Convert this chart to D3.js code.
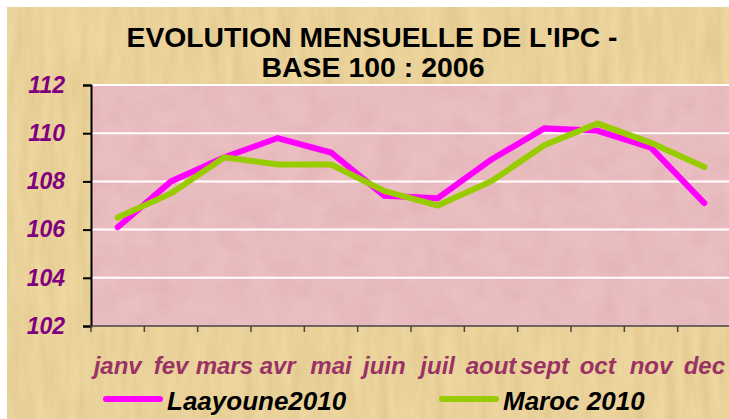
<!DOCTYPE html>
<html>
<head>
<meta charset="utf-8">
<script src="https://cdn.jsdelivr.net/npm/d3@7"></script>
<style>
  body { margin: 0; background: #fff; }
  svg { display: block; }
</style>
</head>
<body>
<svg width="729" height="419"></svg>
<script>
// monthly CPI values, base 100 : 2006
const months = ["janv","fev","mars","avr","mai","juin","juil","aout","sept","oct","nov","dec"];
const laayoune = [106.1, 108.0, 109.0, 109.8, 109.2, 107.4, 107.3, 108.9, 110.2, 110.1, 109.4, 107.1];
const maroc = [106.5, 107.5, 109.0, 108.7, 108.7, 107.6, 107.0, 108.0, 109.5, 110.4, 109.6, 108.6];
const yTicks = [102, 104, 106, 108, 110, 112];
const seriesNames = ["Laayoune2010", "Maroc 2010"];
const seriesColors = ["#ff00ff", "#99cc00"];

const svg = d3.select("svg");
const width = +svg.attr("width");
const height = +svg.attr("height");

const margin = {left: 91, right: -2, top: 85, bottom: 93};
const font = "Liberation Sans, Arial, sans-serif";

const defs = svg.append("defs");
// paper texture
const paper = defs.append("filter").attr("id", "paper").attr("x", 0).attr("y", 0).attr("width", 1).attr("height", 1);
paper.append("feTurbulence").attr("type", "fractalNoise").attr("baseFrequency", "0.09 0.015").attr("numOctaves", 3).attr("seed", 4);
paper.append("feColorMatrix").attr("type", "matrix")
  .attr("values", "0 0 0 0 0.55  0 0 0 0 0.45  0 0 0 0 0.25  0 0 0 0.4 -0.08");
paper.append("feComposite").attr("in2", "SourceGraphic").attr("operator", "in");
paper.append("feBlend").attr("in", "SourceGraphic").attr("mode", "multiply");

const pinkTex = defs.append("filter").attr("id", "pinktex").attr("x", 0).attr("y", 0).attr("width", 1).attr("height", 1);
pinkTex.append("feTurbulence").attr("type", "fractalNoise").attr("baseFrequency", "0.04").attr("numOctaves", 3).attr("seed", 9);
pinkTex.append("feColorMatrix").attr("type", "matrix")
  .attr("values", "0 0 0 0 0.6  0 0 0 0 0.4  0 0 0 0 0.42  0 0 0 0.3 -0.06");
pinkTex.append("feComposite").attr("in2", "SourceGraphic").attr("operator", "in");
pinkTex.append("feBlend").attr("in", "SourceGraphic").attr("mode", "multiply");

// outer frame
svg.append("rect")
  .attr("x", 7).attr("y", 7)
  .attr("width", width - 7).attr("height", height - 7)
  .attr("fill", "#efd8a0")
  .attr("filter", "url(#paper)");

const x = d3.scaleBand()
  .domain(months)
  .range([margin.left, width - margin.right])
  .paddingInner(0).paddingOuter(0);

const y = d3.scaleLinear()
  .domain([102, 112])
  .range([height - margin.bottom, margin.top]);

// plot area
svg.append("rect")
  .attr("x", margin.left).attr("y", margin.top)
  .attr("width", width - margin.right - margin.left)
  .attr("height", y(102) - y(112))
  .attr("fill", "#ecc0c3")
  .attr("filter", "url(#pinktex)");

// gridlines
svg.append("g")
  .selectAll("line")
  .data(yTicks.filter(d => d > 102))
  .enter().append("line")
    .attr("x1", margin.left).attr("x2", width)
    .attr("y1", d => y(d)).attr("y2", d => y(d))
    .attr("stroke", "#fff").attr("stroke-width", 2);

// y axis
const yAxis = svg.append("g")
  .attr("transform", `translate(${margin.left},0)`)
  .call(d3.axisLeft(y).tickValues(yTicks).tickSize(8).tickPadding(18));
yAxis.select(".domain").attr("stroke", "#000").attr("stroke-width", 2);
yAxis.selectAll(".tick line").attr("stroke", "#000").attr("stroke-width", 2);
yAxis.selectAll("text")
  .attr("fill", "#800080")
  .attr("font-family", font)
  .attr("font-size", 23).attr("font-weight", "bold").attr("font-style", "italic");

// x axis: ticks at band edges
const xEdges = d3.range(months.length + 1).map(i => margin.left + i * x.bandwidth());
const xAxisG = svg.append("g");
xAxisG.append("line")
  .attr("x1", margin.left).attr("x2", width)
  .attr("y1", y(102)).attr("y2", y(102))
  .attr("stroke", "#444").attr("stroke-width", 1.5);
xAxisG.selectAll("line.tk")
  .data(xEdges)
  .enter().append("line").attr("class", "tk")
    .attr("x1", d => d).attr("x2", d => d)
    .attr("y1", y(102)).attr("y2", y(102) + 6)
    .attr("stroke", "#444").attr("stroke-width", 1.5);
xAxisG.selectAll("text")
  .data(months)
  .enter().append("text")
    .attr("x", d => x(d) + x.bandwidth() / 2)
    .attr("y", 374)
    .attr("text-anchor", "middle")
    .attr("fill", "#993366")
    .attr("font-family", font)
    .attr("font-size", 24).attr("font-weight", "bold").attr("font-style", "italic")
    .text(d => d);

// lines
const line = d3.line()
  .x((d, i) => x(months[i]) + x.bandwidth() / 2)
  .y(d => y(d));

[laayoune, maroc].forEach((vals, k) => {
  svg.append("path")
    .datum(vals)
    .attr("fill", "none")
    .attr("stroke", seriesColors[k])
    .attr("stroke-width", 6)
    .attr("stroke-linejoin", "miter")
    .attr("stroke-linecap", "round")
    .attr("d", line);
});

// title
const title = svg.append("g")
  .attr("font-family", font)
  .attr("font-weight", "bold")
  .attr("text-anchor", "middle")
  .attr("fill", "#000");
title.append("text").attr("x", 372).attr("y", 47).attr("font-size", 28)
  .attr("textLength", 491).attr("lengthAdjust", "spacingAndGlyphs")
  .text("EVOLUTION MENSUELLE DE L'IPC -");
title.append("text").attr("x", 373).attr("y", 77).attr("font-size", 28)
  .attr("textLength", 223).attr("lengthAdjust", "spacingAndGlyphs")
  .text("BASE 100 : 2006");

// legend
const legendX = [106, 442];
const legend = svg.append("g");
seriesNames.forEach((name, k) => {
  legend.append("line")
    .attr("x1", legendX[k]).attr("x2", legendX[k] + 54)
    .attr("y1", 399).attr("y2", 399)
    .attr("stroke", seriesColors[k]).attr("stroke-width", 6)
    .attr("stroke-linecap", "round");
  legend.append("text")
    .attr("x", legendX[k] + 61).attr("y", 410)
    .attr("font-family", font)
    .attr("font-size", 26).attr("font-weight", "bold").attr("font-style", "italic")
    .attr("fill", "#000")
    .text(name);
});
</script>
</body>
</html>
